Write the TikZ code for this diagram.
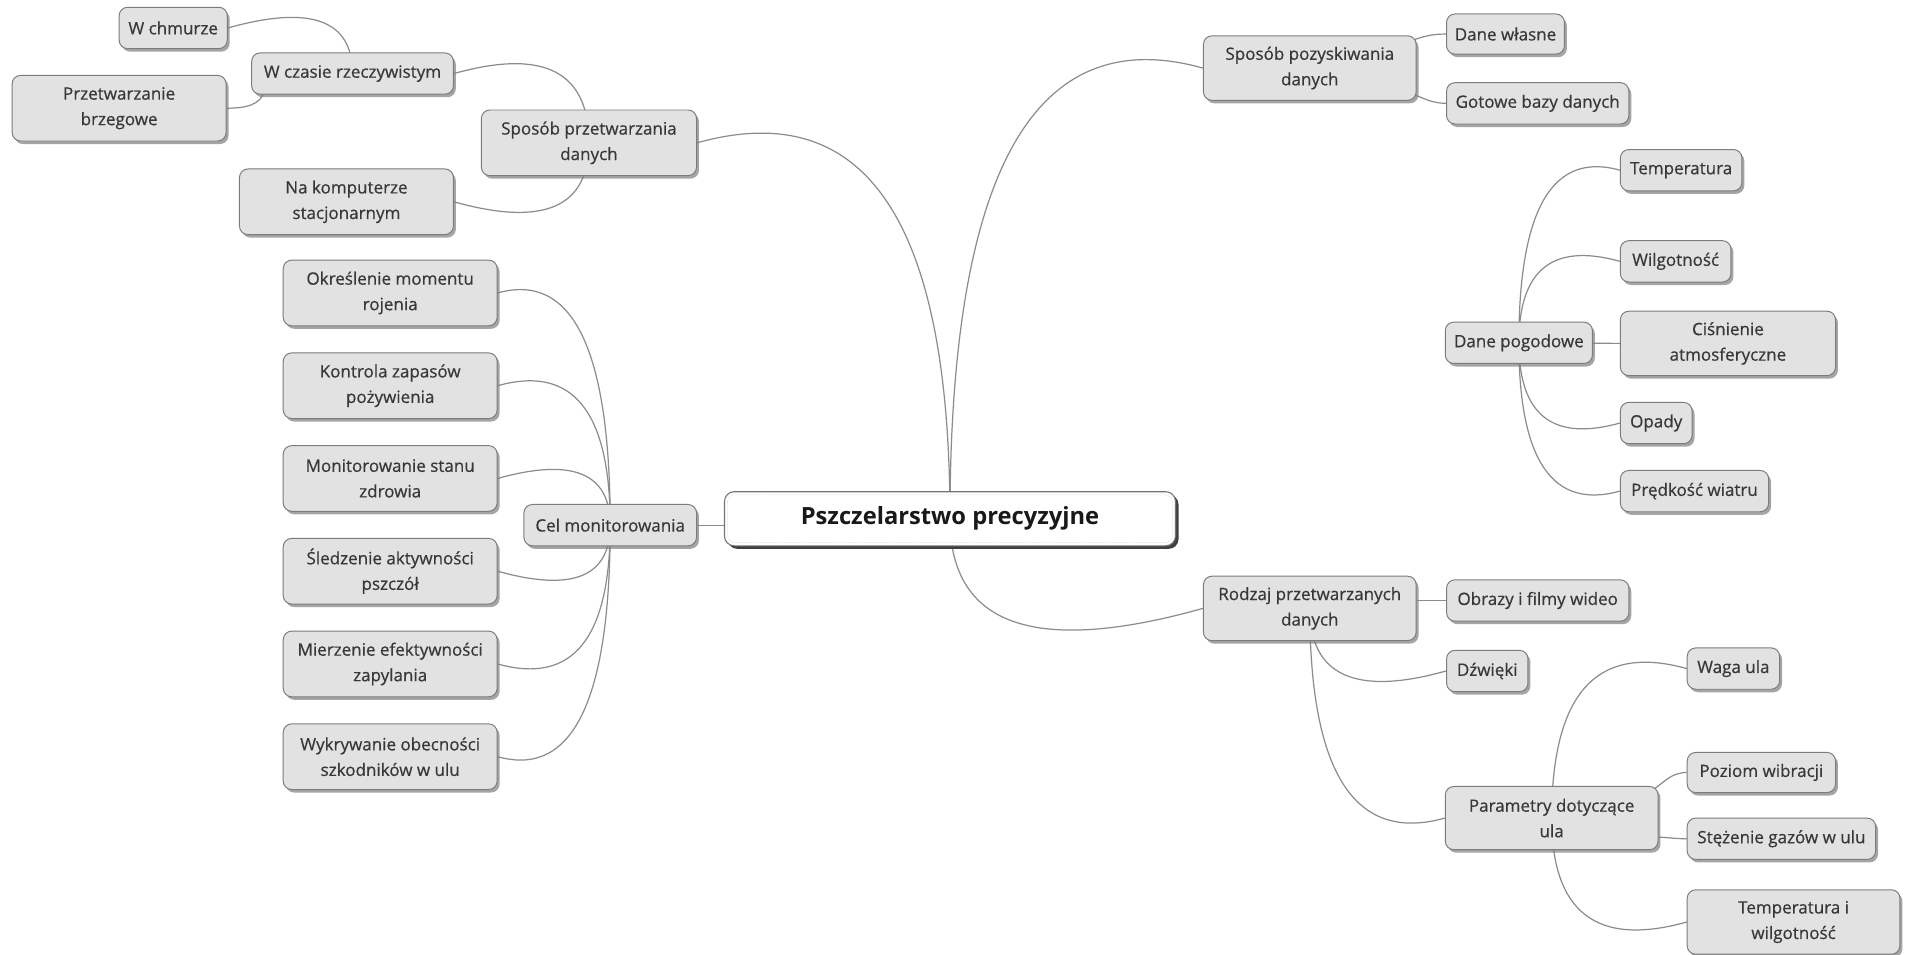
\documentclass[tikz,border=0pt]{standalone}
\usepackage{fontspec}
\setmainfont{Open Sans}
\newfontface\nodefont[FakeBold=0.6]{Open Sans}
\usetikzlibrary{calc,shadows}
\pgfdeclarelayer{bgzero}
\pgfdeclarelayer{background}
\pgfsetlayers{bgzero,background,main}
\definecolor{boxfill}{HTML}{E2E2E2}
\definecolor{boxline}{HTML}{7C7C7C}
\definecolor{linkc}{HTML}{8C8C8C}
\definecolor{txt}{HTML}{383838}
\newcommand\qlink[2]{%
 \draw[link] let \p1=(#1.center), \p2=(#2),
   \n1={max(-0.28*abs(\x2-\x1),min(0.28*abs(\x2-\x1),0.8*(\y2-\y1)))} in
   (\p1) .. controls ($(\p1)!0.6667!(\x1,\y2+\n1)$) and ($(\p2)!0.6667!(\x1,\y2+\n1)$) .. (\p2);}
\begin{document}
\begin{tikzpicture}[x=1pt,y=1pt,
  mbox/.style={draw=boxline, line width=0.8pt, fill=boxfill, rounded corners=7pt,
    text=txt, align=center, inner sep=0pt, font=\nodefont\fontsize{14}{21}\selectfont,
    drop shadow={shadow xshift=2pt,shadow yshift=-2.5pt,fill=black!50,opacity=0.7}},
  link/.style={draw=linkc, line width=1pt},
]
\useasboundingbox (0,0) rectangle (1568,-785);
\begin{pgfonlayer}{bgzero}
\fill[white] (0,0) rectangle (1568,-785);
\end{pgfonlayer}

% centre
\node[draw=black!55, line width=0.9pt, fill=white, rounded corners=8pt,
  minimum width=371pt, minimum height=44.5pt, inner sep=0pt,
  font=\bfseries\fontsize{19.5}{22}\selectfont, text=black!90,
  drop shadow={shadow xshift=2.5pt,shadow yshift=-2.5pt,fill=black!75,opacity=1}]
  (c) at (781.5,-426.75) {Pszczelarstwo precyzyjne};
\draw[densely dotted, black!25, rounded corners=6pt]
  ([shift={(3pt,-3pt)}]c.north west) rectangle ([shift={(-3pt,3pt)}]c.south east);

% left side
\node[mbox, minimum width=89pt, minimum height=34pt] (wch) at (142.5,-23) {W chmurze};
\node[mbox, minimum width=166pt, minimum height=34pt] (wcr) at (290,-60.5) {W czasie rzeczywistym};
\node[mbox, minimum width=176pt, minimum height=54pt] (pb) at (98,-89) {Przetwarzanie\\brzegowe};
\node[mbox, minimum width=177pt, minimum height=54pt] (spd) at (484.5,-117.5) {Sposób przetwarzania\\danych};
\node[mbox, minimum width=176pt, minimum height=54pt] (nk) at (285,-166) {Na komputerze\\stacjonarnym};

\node[mbox, minimum width=176pt, minimum height=54pt] (ok) at (321,-241) {Określenie momentu\\rojenia};
\node[mbox, minimum width=176pt, minimum height=54pt] (kz) at (321,-317.3) {Kontrola zapasów\\pożywienia};
\node[mbox, minimum width=176pt, minimum height=54pt] (ms) at (321,-393.6) {Monitorowanie stanu\\zdrowia};
\node[mbox, minimum width=176pt, minimum height=54pt] (sa) at (321,-469.9) {Śledzenie aktywności\\pszczół};
\node[mbox, minimum width=176pt, minimum height=54pt] (me) at (321,-546.2) {Mierzenie efektywności\\zapylania};
\node[mbox, minimum width=176pt, minimum height=54pt] (wo) at (321,-622.5) {Wykrywanie obecności\\szkodników w ulu};
\node[mbox, minimum width=142pt, minimum height=34pt] (cel) at (502,-432) {Cel monitorowania};

% right side
\node[mbox, minimum width=175pt, minimum height=53pt] (spoz) at (1077.5,-56) {Sposób pozyskiwania\\danych};
\node[mbox, minimum width=97pt, minimum height=33pt] (dw) at (1238.5,-28) {Dane własne};
\node[mbox, minimum width=150pt, minimum height=34pt] (gb) at (1265,-85) {Gotowe bazy danych};

\node[mbox, minimum width=100pt, minimum height=34pt] (tem) at (1383,-140) {Temperatura};
\node[mbox, minimum width=91pt, minimum height=34pt] (wil) at (1378.5,-215) {Wilgotność};
\node[mbox, minimum width=121pt, minimum height=34pt] (dp) at (1249.5,-282) {Dane pogodowe};
\node[mbox, minimum width=177pt, minimum height=53pt] (cis) at (1421.5,-282.5) {Ciśnienie\\atmosferyczne};
\node[mbox, minimum width=59pt, minimum height=34pt] (opa) at (1362.5,-348) {Opady};
\node[mbox, minimum width=122pt, minimum height=34pt] (pre) at (1394,-404) {Prędkość wiatru};

\node[mbox, minimum width=175pt, minimum height=53pt] (rodz) at (1077.5,-500.5) {Rodzaj przetwarzanych\\danych};
\node[mbox, minimum width=150pt, minimum height=34pt] (obr) at (1265,-494) {Obrazy i filmy wideo};
\node[mbox, minimum width=67pt, minimum height=34pt] (dzw) at (1223.5,-552) {Dźwięki};
\node[mbox, minimum width=76pt, minimum height=34pt] (wag) at (1426,-550) {Waga ula};
\node[mbox, minimum width=122pt, minimum height=33pt] (poz) at (1449,-635.5) {Poziom wibracji};
\node[mbox, minimum width=175pt, minimum height=52pt] (par) at (1276.5,-673) {Parametry dotyczące\\ula};
\node[mbox, minimum width=155pt, minimum height=34pt] (ste) at (1465.5,-690) {Stężenie gazów w ulu};
\node[mbox, minimum width=175pt, minimum height=53pt] (tw) at (1475.5,-758.5) {Temperatura i\\wilgotność};

\begin{pgfonlayer}{background}
\qlink{c}{spd.east}
\qlink{c}{spoz.west}
\qlink{c}{rodz.west}
\draw[link] (c.west |- cel.east) -- (cel.east);

\qlink{spd}{wcr.east}
\qlink{spd}{nk.east}
\qlink{wcr}{wch.east}
\draw[link] ([shift={(3pt,4pt)}]wcr.-167) to[out=-100,in=0] (pb.east);

\qlink{cel}{ok.east}
\qlink{cel}{kz.east}
\qlink{cel}{ms.east}
\qlink{cel}{sa.east}
\qlink{cel}{me.east}
\qlink{cel}{wo.east}

\draw[link] ([xshift=-6pt]spoz.14) to[out=20,in=180] (dw.west);
\draw[link] ([xshift=-6pt]spoz.-13) to[out=-20,in=180] (gb.west);

\qlink{dp}{tem.west}
\qlink{dp}{wil.west}
\draw[link] (dp.center) -- (cis.west);
\qlink{dp}{opa.west}
\qlink{dp}{pre.west}

\draw[link] (rodz.east |- obr.west) -- (obr.west);
\qlink{rodz}{dzw.west}
\qlink{rodz}{par.west}

\qlink{par}{wag.west}
\draw[link] ([shift={(-4pt,-4pt)}]par.17) to[out=35,in=180] (poz.west);
\draw[link] ([xshift=-6pt]par.-10) to[out=0,in=180] (ste.west);
\qlink{par}{tw.west}
\end{pgfonlayer}
\end{tikzpicture}
\end{document}
